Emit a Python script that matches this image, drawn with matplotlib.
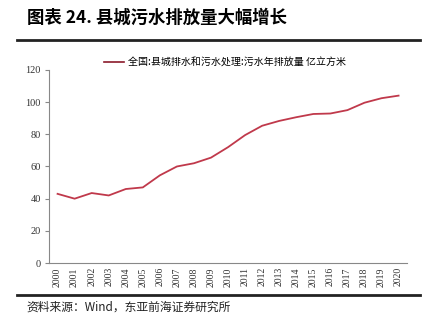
import numpy as np
import matplotlib
matplotlib.use('Agg')
import matplotlib.pyplot as plt
from matplotlib.lines import Line2D

plt.rcParams['font.family'] = ['Noto Sans CJK SC', 'DejaVu Sans']

years = [str(y) for y in range(2000, 2021)]
sewage = [43, 40, 43.5, 42, 46, 47, 54.5, 60, 62, 65.5, 72, 79.5, 85.3, 88.3,
          90.6, 92.6, 92.9, 95, 99.6, 102.4, 104]
series_name = '全国:县城排水和污水处理:污水年排放量 亿立方米'
title = '图表 24. 县城污水排放量大幅增长'
source = '资料来源：Wind，东亚前海证券研究所'

fig = plt.figure(figsize=(4.34, 3.22), dpi=100)
ax = fig.add_axes([0.113, 0.183, 0.825, 0.6])

x = np.arange(len(years))
ax.plot(x, sewage, color='#C0394B', linewidth=1.3)

ax.set_ylim(0, 120)
ax.set_yticks(range(0, 121, 20))
ax.set_xlim(-0.5, len(years) - 0.5)
ax.set_xticks(x)
ax.set_xticklabels(years, rotation=90, family='Liberation Serif', fontsize=7, color='#333333')
for lbl in ax.get_yticklabels():
    lbl.set_family('Liberation Serif')
    lbl.set_fontsize(7.5)
    lbl.set_color('#333333')
ax.tick_params(axis='x', length=0, pad=3)
ax.tick_params(axis='y', length=3, color='#888888', pad=3)
for s in ['top', 'right']:
    ax.spines[s].set_visible(False)
for s in ['left', 'bottom']:
    ax.spines[s].set_color('#888888')
    ax.spines[s].set_linewidth(0.8)

# legend
leg_handle = Line2D([], [], color='#8B1A2B', linewidth=1.2)
fig.legend([leg_handle], [series_name], loc='center', bbox_to_anchor=(0.518, 0.807),
           frameon=False, fontsize=7.2, handlelength=2.0, handletextpad=0.4)

# title and rules
fig.text(0.062, 0.944, title, fontsize=12.5, fontweight='bold', va='center', ha='left')
fig.add_artist(Line2D([0.04, 0.968], [0.876, 0.876], color='#222222', linewidth=2))
fig.add_artist(Line2D([0.04, 0.968], [0.084, 0.084], color='#222222', linewidth=2))
fig.text(0.062, 0.045, source, fontsize=8.5, va='center', ha='left', color='#222222')

fig.savefig('out.png', dpi=100)
